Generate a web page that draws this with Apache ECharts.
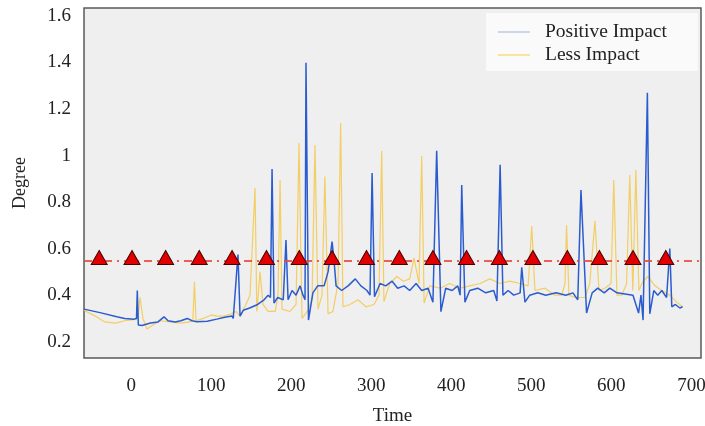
<!DOCTYPE html>
<html>
<head>
<meta charset="utf-8">
<script src="https://cdn.jsdelivr.net/npm/echarts@6/dist/echarts.min.js"></script>
<style>
  html, body { margin: 0; padding: 0; background: #fff; }
  #chart { width: 705px; height: 426px; }
</style>
</head>
<body>
<div id="chart"></div>
<script>
// tick labels
var xTicks = [0, 100, 200, 300, 400, 500, 600, 700];
var yTicks = [0.2, 0.4, 0.6, 0.8, 1, 1.2, 1.4, 1.6];

// Positive Impact (blue)
var posTime = [-59, -39, -18, -8, 3.5, 6.6, 7.6, 8.9, 13.5, 24, 33.5, 41, 46, 55, 62, 70, 76, 82, 95, 107, 117, 126,
  127.5, 133.4, 136, 140, 148, 158, 166, 171, 174, 176, 178.4, 183, 190, 193.4, 196, 201, 206, 211, 214.7, 217.2,
  218.4, 221.5, 227, 233, 241, 246, 251, 253.4, 256, 263, 271, 280, 287, 294.6, 298.4, 301, 304, 311, 318, 326,
  333, 341, 348, 356, 363, 371, 377, 381.7, 387, 393, 401, 408, 411, 413, 417, 423, 433, 443, 453, 457, 461,
  464.5, 471, 478, 486, 488, 492, 498, 508, 518, 531, 543, 552, 558, 562, 569, 576, 583, 591, 598, 607, 617,
  627, 634, 637, 639.6, 645, 648, 653, 658, 663, 669, 673, 675.5, 680, 685.6, 689];
var posValue = [0.34, 0.325, 0.307, 0.30, 0.297, 0.30, 0.42, 0.272, 0.27, 0.28, 0.285, 0.307, 0.29, 0.285, 0.29, 0.30, 0.29, 0.286, 0.288, 0.297, 0.305, 0.31,
  0.30, 0.575, 0.31, 0.335, 0.345, 0.36, 0.38, 0.40, 0.39, 0.942, 0.366, 0.39, 0.38, 0.637, 0.38, 0.42, 0.40, 0.44, 0.40, 0.38,
  1.399, 0.293, 0.41, 0.44, 0.44, 0.50, 0.63, 0.55, 0.44, 0.42, 0.44, 0.47, 0.44, 0.42, 0.40, 0.925, 0.393, 0.45, 0.44, 0.46,
  0.43, 0.44, 0.42, 0.45, 0.42, 0.43, 0.37, 1.021, 0.329, 0.43, 0.42, 0.44, 0.40, 0.873, 0.37, 0.42, 0.43, 0.41, 0.42, 0.375, 0.96,
  0.40, 0.42, 0.40, 0.41, 0.52, 0.37, 0.40, 0.41, 0.40, 0.41, 0.40, 0.41, 0.38, 0.852, 0.323, 0.41, 0.43, 0.41, 0.43, 0.41, 0.405,
  0.40, 0.323, 0.40, 0.293, 1.27, 0.32, 0.42, 0.40, 0.42, 0.39, 0.60, 0.35, 0.36, 0.345, 0.35];

// Less Impact (yellow)
var lessTime = [-59, -45, -33, -20, -8, 3.5, 8.5, 11, 14.7, 19.7, 26, 36, 48.5, 61, 73.5, 77, 79, 81, 90, 100, 107, 116,
  125, 131, 136, 143.4, 148.4, 154.7, 157, 161, 164.7, 171, 180, 183.4, 186, 188.4, 198.4, 206, 209.7, 213.4, 220,
  226, 229.6, 233.4, 238.4, 242, 246, 252, 258.4, 261.7, 264.6, 273.4, 283.4, 293.4, 303.4, 309.6, 313, 315.8, 323,
  332, 340, 348, 353.4, 359.6, 363, 366, 373, 386, 398, 411, 423, 436, 448, 461, 473, 486, 496, 500.5, 504.5, 517,
  529.6, 538, 542, 544, 547, 554.5, 567, 573, 579.5, 584.5, 592, 599.6, 603, 607, 613, 619, 623, 626.8, 630.6,
  634.4, 639.6, 645.7, 654.5, 663, 673, 681.7, 689];
var lessValue = [0.335, 0.31, 0.285, 0.28, 0.29, 0.295, 0.30, 0.39, 0.30, 0.255, 0.27, 0.29, 0.285, 0.28, 0.285, 0.29, 0.458, 0.29, 0.30, 0.315, 0.31, 0.31,
  0.32, 0.33, 0.31, 0.36, 0.40, 0.86, 0.33, 0.50, 0.36, 0.33, 0.33, 0.40, 0.895, 0.34, 0.33, 0.36, 1.054, 0.30, 0.33,
  0.38, 1.045, 0.34, 0.40, 0.91, 0.32, 0.33, 0.45, 1.14, 0.35, 0.36, 0.38, 0.35, 0.36, 0.40, 1.02, 0.372, 0.45,
  0.48, 0.46, 0.47, 0.56, 0.45, 0.998, 0.366, 0.44, 0.43, 0.45, 0.43, 0.44, 0.45, 0.47, 0.45, 0.46, 0.45, 0.44, 0.697, 0.42, 0.43,
  0.40, 0.40, 0.45, 0.70, 0.40, 0.39, 0.39, 0.45, 0.72, 0.42, 0.43, 0.45, 0.895, 0.40, 0.40, 0.45, 0.916, 0.42, 0.938,
  0.42, 0.46, 0.48, 0.44, 0.42, 0.40, 0.37, 0.35];

// threshold line and triangle markers
var thresholdValue = 0.547;
var markerTime = [-40, 1, 43, 85, 126, 169, 210, 251, 294, 335, 377, 419, 460, 502, 545, 585, 627, 668];
var markerValue = 0.562;

function zip(a, b) {
    var out = [];
    for (var i = 0; i < a.length; i++) {
        out.push([a[i], b[i]]);
    }
    return out;
}

var markerData = [];
for (var i = 0; i < markerTime.length; i++) {
    markerData.push([markerTime[i], markerValue]);
}

var serif = 'Liberation Serif';
var myChart = echarts.init(document.getElementById('chart'), null, {renderer: 'canvas'});

var option = {
    backgroundColor: '#ffffff',
    animation: false,
    textStyle: {fontFamily: serif},
    grid: {
        left: 84,
        top: 8,
        right: 4,
        bottom: 68,
        outerBoundsMode: 'none',
        containLabel: false,
        show: true,
        backgroundColor: '#efefef',
        borderColor: '#5a5a5a',
        borderWidth: 1.5
    },
    legend: {
        orient: 'vertical',
        left: 486,
        top: 13,
        backgroundColor: '#fafafa',
        padding: [9, 31, 6, 12],
        icon: 'rect',
        itemWidth: 32,
        itemHeight: 1.5,
        itemGap: 3,
        textStyle: {fontFamily: serif, fontSize: 19.5, color: '#222', lineHeight: 18, padding: [0, 0, 0, 10]},
        data: [
            {name: 'Positive Impact', itemStyle: {color: '#bcc8e6'}},
            {name: 'Less Impact', itemStyle: {color: '#f5dc80'}}
        ]
    },
    xAxis: {
        type: 'value',
        min: -59,
        max: 712,
        name: 'Time',
        nameLocation: 'middle',
        nameGap: 49,
        nameTextStyle: {fontFamily: serif, fontSize: 19, color: '#222'},
        axisLine: {show: false},
        axisTick: {show: false},
        splitLine: {show: false},
        axisLabel: {
            customValues: xTicks,
            margin: 19,
            fontFamily: serif,
            fontSize: 19,
            color: '#222'
        }
    },
    yAxis: {
        type: 'value',
        min: 0.13,
        max: 1.634,
        name: 'Degree',
        nameLocation: 'middle',
        nameGap: 55,
        nameRotate: 90,
        nameTextStyle: {fontFamily: serif, fontSize: 18, color: '#222'},
        axisLine: {show: false},
        axisTick: {show: false},
        splitLine: {show: false},
        axisLabel: {
            customValues: yTicks,
            margin: 13,
            fontFamily: serif,
            fontSize: 19,
            color: '#222',
            formatter: function (v) { return String(Math.round(v * 10) / 10); }
        }
    },
    series: [
        {
            name: 'Less Impact',
            type: 'line',
            data: zip(lessTime, lessValue),
            showSymbol: false,
            lineStyle: {color: '#f5c84a', width: 1.2, opacity: 0.85},
            itemStyle: {color: '#f5c84a'},
            z: 2
        },
        {
            name: 'Positive Impact',
            type: 'line',
            data: zip(posTime, posValue),
            showSymbol: false,
            lineStyle: {color: '#2b5ccf', width: 1.5},
            itemStyle: {color: '#2b5ccf'},
            z: 3
        },
        {
            name: 'marker',
            type: 'scatter',
            data: markerData,
            symbol: 'triangle',
            symbolSize: [16, 14],
            itemStyle: {color: '#e00000', borderColor: '#4a0000', borderWidth: 1, opacity: 1},
            z: 5,
            markLine: {
                silent: true,
                symbol: 'none',
                label: {show: false},
                lineStyle: {color: '#e8463c', width: 2, type: [8, 5, 2, 5], opacity: 0.85},
                data: [{yAxis: thresholdValue}]
            }
        }
    ]
};

myChart.setOption(option);
</script>
</body>
</html>
